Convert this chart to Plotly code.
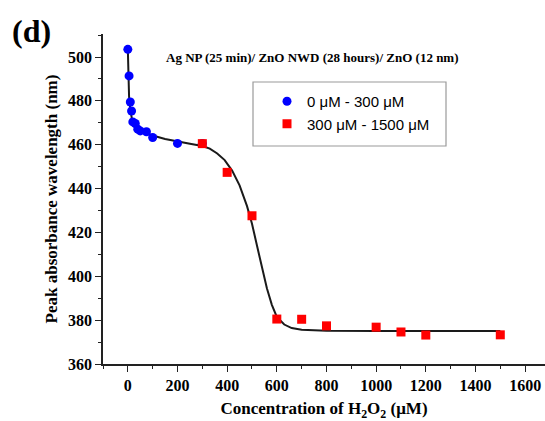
import plotly.graph_objects as go

# Data
blue_x = [0, 5, 10, 15, 20, 30, 40, 50, 75, 100, 200, 300]
blue_y = [503.5, 491.4, 479.5, 475.4, 470.4, 469.7, 467.1, 466.3, 465.9, 463.3, 460.6, 460.6]

red_x = [300, 400, 500, 600, 700, 800, 1000, 1100, 1200, 1500]
red_y = [460.5, 447.4, 427.6, 380.5, 380.4, 377.4, 376.8, 374.6, 373.2, 373.3]

# Fitted curve
fit_x = [0, 2, 5, 10, 15, 20, 30, 50, 75, 100, 150, 200, 250, 300, 330, 360, 390,
         420, 450, 480, 500, 520, 540, 560, 580, 600, 630, 660, 700, 750, 800, 1000, 1500]
fit_y = [503.5, 492, 482, 476, 472, 469.5, 467.8, 466.2, 465.2, 464.2, 462.6, 461.4,
         460.4, 459.4, 458.2, 456.0, 453.0, 448.2, 441.5, 432.0, 424.0, 414.0, 403.5,
         394.5, 387.0, 381.5, 378.0, 376.4, 375.6, 375.3, 375.2, 375.1, 375.1]

x_ticks = [0, 200, 400, 600, 800, 1000, 1200, 1400, 1600]
y_ticks = [360, 380, 400, 420, 440, 460, 480, 500]

serif = "Liberation Serif"
sans = "Liberation Sans"

fig = go.Figure()
fig.add_trace(go.Scatter(x=fit_x, y=fit_y, mode="lines",
                         line=dict(color="#1a1a1a", width=2), showlegend=False,
                         hoverinfo="skip"))
fig.add_trace(go.Scatter(x=blue_x, y=blue_y, mode="markers", name="0 μM - 300 μM",
                         marker=dict(symbol="circle", size=9, color="#0000ff")))
fig.add_trace(go.Scatter(x=red_x, y=red_y, mode="markers", name="300 μM - 1500 μM",
                         marker=dict(symbol="square", size=9, color="#ff0000")))

axis_common = dict(showline=True, linecolor="#222", linewidth=1.5, ticks="outside",
                   ticklen=6, tickwidth=1.3, tickcolor="#222", showgrid=False,
                   zeroline=False, automargin=False,
                   tickfont=dict(family=serif, size=16, color="black", weight="bold"))

fig.update_xaxes(range=[-100, 1680], tickvals=x_ticks, **axis_common,
                 minor=dict(ticks="outside", ticklen=3, dtick=100, tick0=0,
                            tickcolor="#222", showgrid=False),
                 title=dict(text="<b>Concentration of H<sub>2</sub>O<sub>2</sub> (μM)</b>",
                            font=dict(family=serif, size=17, color="black"), standoff=20))
fig.update_yaxes(range=[360, 510.5], tickvals=y_ticks, **axis_common,
                 minor=dict(ticks="outside", ticklen=3, dtick=10, tick0=0,
                            tickcolor="#222", showgrid=False),
                 title=dict(text="<b>Peak absorbance wavelength (nm)</b>",
                            font=dict(family=serif, size=17, color="black"), standoff=6))

fig.update_layout(
    width=545, height=421,
    margin=dict(l=103, r=0, t=34, b=57),
    paper_bgcolor="white", plot_bgcolor="white",
    legend=dict(x=(267 - 103) / 442, y=(364 - 85) / 330, xanchor="left", yanchor="top",
                bgcolor="rgba(0,0,0,0)", borderwidth=0,
                font=dict(family=sans, size=15, color="black")),
    shapes=[dict(type="rect", xref="paper", yref="paper",
                 x0=(253 - 103) / 442, x1=(446 - 103) / 442,
                 y0=(364 - 146) / 330, y1=(364 - 82) / 330,
                 line=dict(color="#9a9a9a", width=1.2), fillcolor="rgba(0,0,0,0)")],
    annotations=[
        dict(text="<b>Ag NP (25 min)/ ZnO NWD (28 hours)/ ZnO (12 nm)</b>",
             xref="paper", yref="paper", x=(312 - 103) / 442, y=(364 - 57) / 330,
             xanchor="center", yanchor="middle", showarrow=False,
             font=dict(family=serif, size=13, color="black")),
        dict(text="<b>(d)</b>", xref="paper", yref="paper",
             x=(10 - 103) / 442, y=(364 - 31) / 330, xanchor="left", yanchor="middle",
             showarrow=False, font=dict(family=serif, size=32, color="black")),
    ],
)

# Remove the browser's default page margin so the figure sits at the window's corner
fig.write_html("out.html", config={"displayModeBar": False},
               post_script="document.body.style.margin='0';document.body.style.overflow='hidden';")
